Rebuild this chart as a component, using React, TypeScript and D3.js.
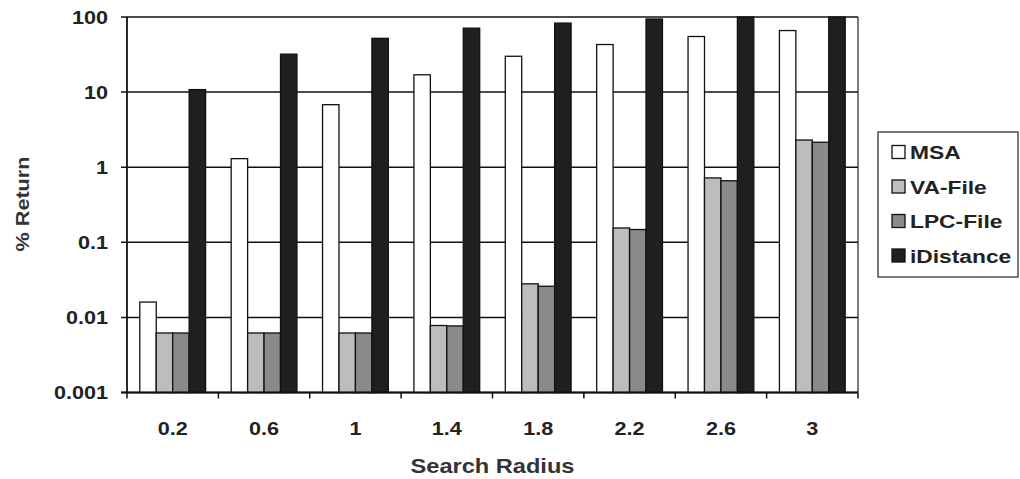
import React, { useEffect, useRef } from "react";
import * as d3 from "d3";

const categories = ["0.2", "0.6", "1", "1.4", "1.8", "2.2", "2.6", "3"];
const seriesNames = ["MSA", "VA-File", "LPC-File", "iDistance"];
const msa = [0.016, 1.3, 6.8, 17, 30, 43, 55, 66];
const vaFile = [0.0062, 0.0062, 0.0062, 0.0078, 0.028, 0.155, 0.72, 2.3];
const lpcFile = [0.0062, 0.0062, 0.0062, 0.0077, 0.026, 0.148, 0.66, 2.15];
const iDistance = [10.8, 32, 52, 71, 83, 94, 100, 100];
const yTicks = [0.001, 0.01, 0.1, 1, 10, 100];
const yTickLabels = ["0.001", "0.01", "0.1", "1", "10", "100"];
const colors = ["#ffffff", "#bdbdbd", "#8a8a8a", "#1f1f1f"];

export default function App() {
  const ref = useRef<SVGSVGElement>(null);

  useEffect(() => {
    const svg = d3.select(ref.current);
    svg.selectAll("*").remove();

    const left = 127, right = 858, top = 17, bottom = 392.5;
    const font = "'Liberation Sans', Arial, sans-serif";
    const values = [msa, vaFile, lpcFile, iDistance];

    const x = d3.scaleBand<string>()
      .domain(categories)
      .range([left, right])
      .paddingInner(0.28)
      .paddingOuter(0.14);
    const xs = d3.scaleBand<string>()
      .domain(seriesNames)
      .range([0, x.bandwidth()]);
    const y = d3.scaleLog().domain([0.001, 100]).range([bottom, top]);
    const step = x.step();

    // gridlines + y ticks
    svg.append("g").selectAll("line")
      .data(yTicks)
      .enter()
      .append("line")
      .attr("x1", left - 6)
      .attr("x2", right)
      .attr("y1", d => y(d))
      .attr("y2", d => y(d))
      .attr("stroke", "#111")
      .attr("stroke-width", 1.5);

    // right border
    svg.append("line")
      .attr("x1", right).attr("x2", right)
      .attr("y1", top).attr("y2", bottom)
      .attr("stroke", "#222").attr("stroke-width", 1.2);

    // bars
    values.forEach((vals, s) => {
      svg.append("g").selectAll("rect")
        .data(vals)
        .enter()
        .append("rect")
        .attr("x", (d, i) => (x(categories[i]) as number) + (xs(seriesNames[s]) as number))
        .attr("y", d => y(d))
        .attr("width", xs.bandwidth())
        .attr("height", d => bottom - y(d))
        .attr("fill", colors[s])
        .attr("stroke", "#111")
        .attr("stroke-width", 1.3);
    });

    // axes lines
    svg.append("line")
      .attr("x1", left).attr("x2", left)
      .attr("y1", top).attr("y2", bottom)
      .attr("stroke", "#111").attr("stroke-width", 1.8);
    svg.append("line")
      .attr("x1", left - 6).attr("x2", right)
      .attr("y1", bottom).attr("y2", bottom)
      .attr("stroke", "#111").attr("stroke-width", 1.8);

    // x ticks at group boundaries
    svg.append("g").selectAll("line")
      .data(d3.range(categories.length + 1))
      .enter()
      .append("line")
      .attr("x1", i => left + i * step)
      .attr("x2", i => left + i * step)
      .attr("y1", bottom)
      .attr("y2", bottom + 6)
      .attr("stroke", "#111")
      .attr("stroke-width", 1.5);

    // y tick labels
    svg.append("g").selectAll("text")
      .data(yTicks)
      .enter()
      .append("text")
      .attr("transform", d => `translate(108, ${y(d) + 6.5}) scale(1.2, 1)`)
      .attr("text-anchor", "end")
      .style("font-family", font)
      .style("font-weight", "bold")
      .style("font-size", "18px")
      .attr("fill", "#222")
      .text((d, i) => yTickLabels[i]);

    // x tick labels
    svg.append("g").selectAll("text")
      .data(categories)
      .enter()
      .append("text")
      .attr("transform", d => `translate(${(x(d) as number) + x.bandwidth() / 2}, 435) scale(1.2, 1)`)
      .attr("text-anchor", "middle")
      .style("font-family", font)
      .style("font-weight", "bold")
      .style("font-size", "18px")
      .attr("fill", "#222")
      .text(d => d);

    // axis titles
    svg.append("text")
      .attr("transform", `translate(${(left + right) / 2}, 473) scale(1.18, 1)`)
      .attr("text-anchor", "middle")
      .style("font-family", font)
      .style("font-weight", "bold")
      .style("font-size", "20px")
      .attr("fill", "#333")
      .text("Search Radius");

    svg.append("text")
      .attr("transform", `translate(29, 204) rotate(-90) scale(1.2, 1)`)
      .attr("text-anchor", "middle")
      .style("font-family", font)
      .style("font-weight", "bold")
      .style("font-size", "18px")
      .attr("fill", "#333")
      .text("% Return");

    // legend
    const legend = svg.append("g");
    legend.append("rect")
      .attr("x", 878).attr("y", 132)
      .attr("width", 140).attr("height", 145)
      .attr("fill", "#fff")
      .attr("stroke", "#333")
      .attr("stroke-width", 1.3);
    seriesNames.forEach((name, i) => {
      const cy = 152 + i * 34.5;
      legend.append("rect")
        .attr("x", 892).attr("y", cy - 6.5)
        .attr("width", 13).attr("height", 13)
        .attr("fill", colors[i])
        .attr("stroke", "#111")
        .attr("stroke-width", 1.3);
      legend.append("text")
        .attr("transform", `translate(910, ${cy + 7}) scale(1.2, 1)`)
        .style("font-family", font)
        .style("font-weight", "bold")
        .style("font-size", "19px")
        .attr("fill", "#222")
        .text(name);
    });
  }, []);

  return (
    <svg
      ref={ref}
      width={1020}
      height={479}
      style={{ position: "absolute", left: 0, top: 0, background: "#fff" }}
    />
  );
}
